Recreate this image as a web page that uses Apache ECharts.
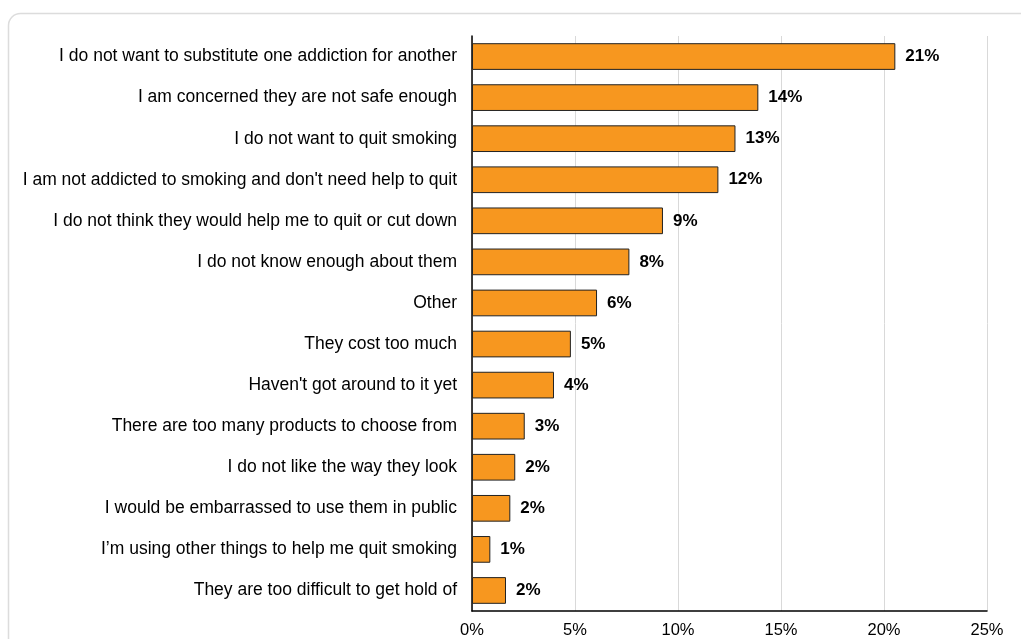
<!DOCTYPE html>
<html>
<head>
<meta charset="utf-8">
<script src="https://cdn.jsdelivr.net/npm/echarts@6/dist/echarts.min.js"></script>
<style>
html,body{margin:0;padding:0;background:#fff;}
#chart{width:1021px;height:639px;}
</style>
</head>
<body>
<div id="chart"></div>
<script>
const categories = [
  "I do not want to substitute one addiction for another",
  "I am concerned they are not safe enough",
  "I do not want to quit smoking",
  "I am not addicted to smoking and don't need help to quit",
  "I do not think they would help me to quit or cut down",
  "I do not know enough about them",
  "Other",
  "They cost too much",
  "Haven't got around to it yet",
  "There are too many products to choose from",
  "I do not like the way they look",
  "I would be embarrassed to use them in public",
  "I’m using other things to help me quit smoking",
  "They are too difficult to get hold of"
];
const values = [20.55, 13.9, 12.79, 11.96, 9.27, 7.64, 6.07, 4.8, 3.98, 2.56, 2.1, 1.86, 0.89, 1.65];
const xTicks = [0, 5, 10, 15, 20, 25];

const chart = echarts.init(document.getElementById('chart'), null, {renderer: 'canvas'});
const font = "'Liberation Sans', Arial, sans-serif";
chart.setOption({
  animation: false,
  graphic: [{
    type: 'rect',
    shape: {x: 8.5, y: 13.5, width: 1030, height: 640, r: 12},
    style: {fill: 'none', stroke: '#dcdcdc', lineWidth: 1.5},
    z: -10
  }],
  grid: {left: 472, right: 34, top: 36, bottom: 27, containLabel: false},
  xAxis: {
    type: 'value',
    min: xTicks[0],
    max: xTicks[xTicks.length - 1],
    interval: 5,
    axisLine: {show: true, lineStyle: {color: '#000', width: 1.5}},
    axisTick: {show: false},
    splitLine: {show: true, lineStyle: {color: '#d9d9d9', width: 1}},
    axisLabel: {formatter: v => v + '%', color: '#000', fontSize: 16.5, fontFamily: font, margin: 11}
  },
  yAxis: {
    type: 'category',
    data: categories,
    inverse: true,
    axisLine: {show: true, lineStyle: {color: '#000', width: 1.5}},
    axisTick: {show: false},
    axisLabel: {color: '#000', fontSize: 17.5, fontFamily: font, margin: 15}
  },
  series: [{
    type: 'bar',
    data: values,
    barWidth: '65%',
    itemStyle: {color: '#F7971F', borderColor: '#222', borderWidth: 1},
    label: {
      show: true,
      position: 'right',
      distance: 10,
      formatter: p => Math.round(p.value) + '%',
      color: '#000',
      fontWeight: 'bold',
      fontSize: 17,
      fontFamily: font
    }
  }]
});
</script>
</body>
</html>
